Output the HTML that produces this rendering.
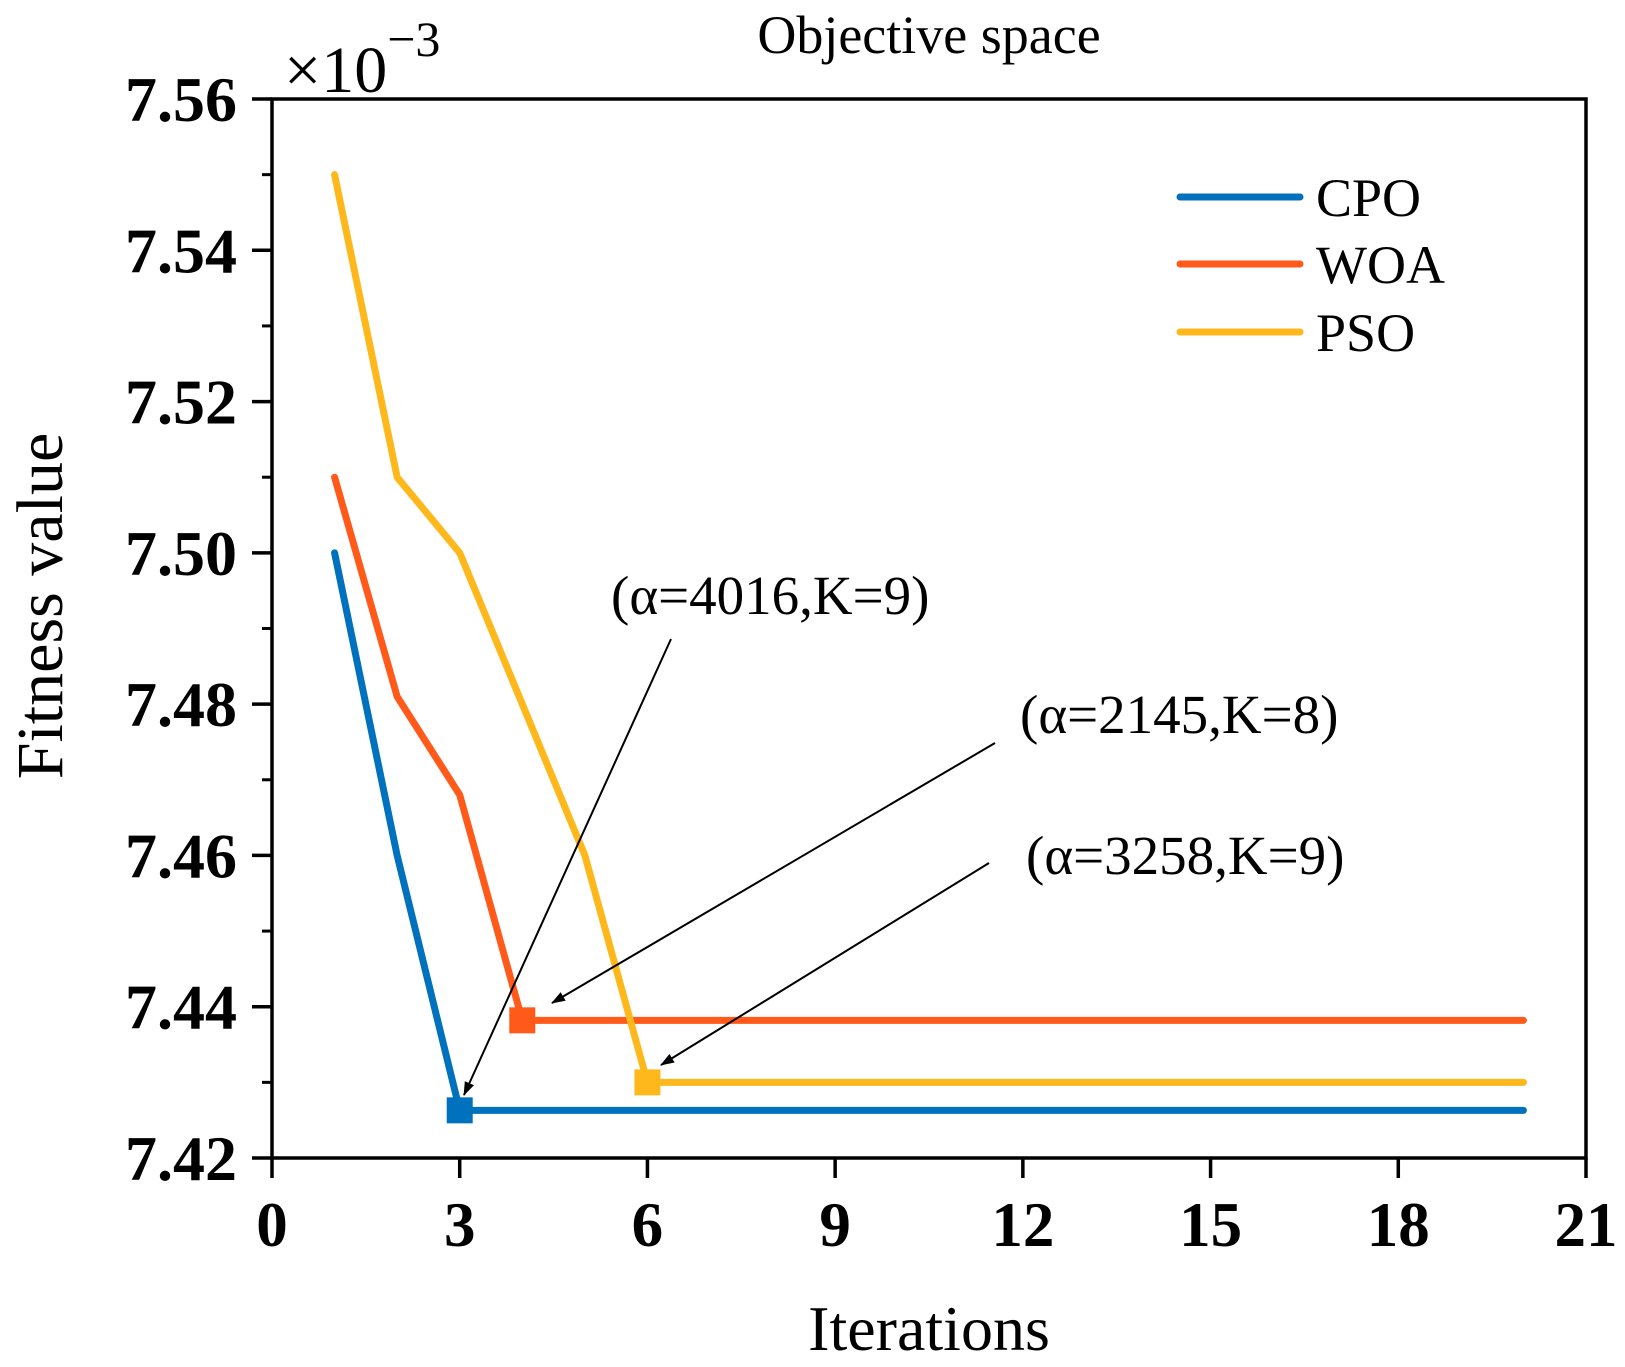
<!DOCTYPE html>
<html><head><meta charset="utf-8"><style>
html,body{margin:0;padding:0;background:#fff}
svg{display:block;font-family:"Liberation Serif",serif}
</style></head><body>
<svg id="chart" width="1625" height="1367" viewBox="0 0 1625 1367">
<defs><marker id="ah" markerWidth="14" markerHeight="10" refX="13" refY="5" orient="auto" markerUnits="userSpaceOnUse"><path d="M0,0 L14,5 L0,10 Z" fill="#000"/></marker></defs>
<g id="series"></g>
<g id="axes"></g>
<text x="929" y="53" font-size="54" text-anchor="middle">Objective space</text>
<text x="284" y="92" font-size="66">×10<tspan font-size="50" dy="-36">−3</tspan></text>
<text transform="translate(62,606) rotate(-90)" font-size="66" text-anchor="middle">Fitness value</text>
<text x="929" y="1350" font-size="64" text-anchor="middle">Iterations</text>
<g>
<line x1="1180" y1="197" x2="1300" y2="197" stroke="#0072BD" stroke-width="7" stroke-linecap="round"/>
<text x="1316" y="216" font-size="54">CPO</text>
<line x1="1180" y1="264" x2="1300" y2="264" stroke="#FF5A1A" stroke-width="7" stroke-linecap="round"/>
<text x="1316" y="283" font-size="54">WOA</text>
<line x1="1180" y1="332" x2="1300" y2="332" stroke="#FFB81C" stroke-width="7" stroke-linecap="round"/>
<text x="1316" y="351" font-size="54">PSO</text>
</g>
<g>
<text x="611" y="614" font-size="55">(α=4016,K=9)</text>
<line x1="671" y1="639" x2="464" y2="1095" stroke="#000" stroke-width="2" marker-end="url(#ah)"/>
<text x="1020" y="733" font-size="55">(α=2145,K=8)</text>
<line x1="995" y1="743" x2="552" y2="1003" stroke="#000" stroke-width="2" marker-end="url(#ah)"/>
<text x="1026" y="874" font-size="55">(α=3258,K=9)</text>
<line x1="989" y1="863" x2="661" y2="1065" stroke="#000" stroke-width="2" marker-end="url(#ah)"/>
</g>
</svg>
<script>
const iterations = [1,2,3,4,5,6,7,8,9,10,11,12,13,14,15,16,17,18,19,20];
const cpoValues = [7.50,7.46,7.4263,7.4263,7.4263,7.4263,7.4263,7.4263,7.4263,7.4263,7.4263,7.4263,7.4263,7.4263,7.4263,7.4263,7.4263,7.4263,7.4263,7.4263];
const woaValues = [7.51,7.481,7.468,7.4382,7.4382,7.4382,7.4382,7.4382,7.4382,7.4382,7.4382,7.4382,7.4382,7.4382,7.4382,7.4382,7.4382,7.4382,7.4382,7.4382];
const psoValues = [7.55,7.51,7.50,7.48,7.46,7.43,7.43,7.43,7.43,7.43,7.43,7.43,7.43,7.43,7.43,7.43,7.43,7.43,7.43,7.43];
const bestIter = [3,4,6];
const xTicks = [0,3,6,9,12,15,18,21];
const yTicks = [7.42,7.44,7.46,7.48,7.50,7.52,7.54,7.56];
const yTickLabels = ["7.42","7.44","7.46","7.48","7.50","7.52","7.54","7.56"];

const L=272,R=1586,T=99,B=1158, X0=0,X1=21,Y0=7.42,Y1=7.56;
const sx=v=>L+(v-X0)/(X1-X0)*(R-L);
const sy=v=>B-(v-Y0)/(Y1-Y0)*(B-T);
const NS="http://www.w3.org/2000/svg";
function mk(tag,attrs,parent){const e=document.createElementNS(NS,tag);for(const k in attrs)e.setAttribute(k,attrs[k]);parent.appendChild(e);return e;}
const axes=document.getElementById('axes'), series=document.getElementById('series');

const frame=mk('rect',{x:L,y:T,width:R-L,height:B-T,fill:'none',stroke:'#000','stroke-width':3.5},axes);



xTicks.forEach((t,i)=>{
  const ln=mk('line',{x1:sx(t),x2:sx(t),y1:B,y2:B+20,stroke:'#000','stroke-width':3.5},axes);
  
  
  const tx=mk('text',{x:sx(t),y:B+88,'font-size':63,'font-weight':'bold','text-anchor':'middle'},axes);
  tx.textContent=String(t);
  
  
});
yTicks.forEach((t,i)=>{
  const ln=mk('line',{x1:L-20,x2:L,y1:sy(t),y2:sy(t),stroke:'#000','stroke-width':3.5},axes);
  
  
  if(i<yTicks.length-1){const m=mk('line',{x1:L-10,x2:L,y1:sy(t+0.01),y2:sy(t+0.01),stroke:'#000','stroke-width':3},axes);
  
  }
  const tx=mk('text',{x:237,y:sy(t)+22,'font-size':64,'font-weight':'bold','text-anchor':'end'},axes);
  tx.textContent=yTickLabels[i];
  
  
});

const defs=[[woaValues,'#FF5A1A','woa'],[psoValues,'#FFB81C','pso'],[cpoValues,'#0072BD','cpo']];
const bestIdx={cpo:0,woa:1,pso:2};
defs.forEach(([vals,col,nm])=>{
  const pts=iterations.map((x,i)=>sx(x)+','+sy(vals[i])).join(' ');
  const pl=mk('polyline',{points:pts,fill:'none',stroke:col,'stroke-width':7,'stroke-linejoin':'round','stroke-linecap':'round'},series);
  
  
  const bi=bestIter[bestIdx[nm]];
  const v=vals[iterations.indexOf(bi)];
  const sq=mk('rect',{x:sx(bi)-13,y:sy(v)-13,width:26,height:26,fill:col},series);
  
  
});
</script>
</body></html>
